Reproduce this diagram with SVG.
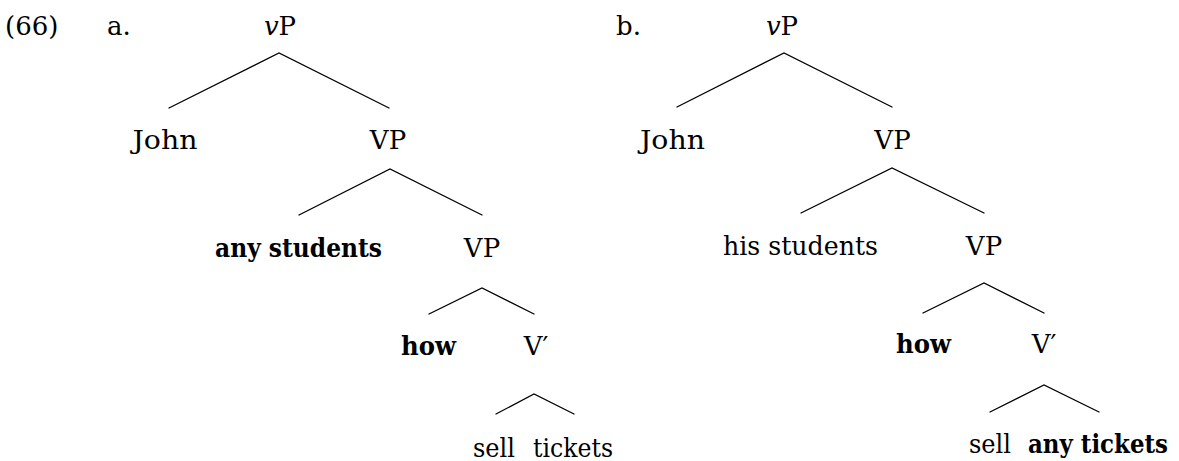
<svg xmlns="http://www.w3.org/2000/svg" width="1179" height="461" viewBox="0 0 1179 461">
  <style>
    .t { font-family: "DejaVu Serif", "Liberation Serif", serif; font-size: 26px; fill: #000; }
    .c { text-anchor: middle; }
    .e { text-anchor: end; }
    .b { font-weight: bold; }
    .i { font-style: italic; }
    .edge { stroke: #000; stroke-width: 1.3; fill: none; stroke-linecap: round; }
  </style>
  <rect width="1179" height="461" fill="#fff"/>

  <!-- example number and sub-labels -->
  <g id="labels">
    <text class="t" x="5" y="35">(66)</text>
    <text class="t" x="107" y="35">a.</text>
    <text class="t" x="616" y="35">b.</text>
  </g>

  <!-- tree a nodes -->
  <g id="a-vP"><text class="t c" x="280" y="35"><tspan class="i">v</tspan>P</text></g>
  <g id="a-John"><text class="t c" x="165" y="149" textLength="65" lengthAdjust="spacingAndGlyphs">John</text></g>
  <g id="a-VP1"><text class="t c" x="388" y="149">VP</text></g>
  <g id="a-any-students"><text class="t c b" x="298.5" y="257" textLength="167" lengthAdjust="spacingAndGlyphs">any students</text></g>
  <g id="a-VP2"><text class="t c" x="482" y="257">VP</text></g>
  <g id="a-how"><text class="t c b" x="428.5" y="355" textLength="55" lengthAdjust="spacingAndGlyphs">how</text></g>
  <g id="a-Vbar"><text class="t c" x="536" y="355">V′</text></g>
  <g id="a-sell"><text class="t c" x="494" y="457" textLength="42" lengthAdjust="spacingAndGlyphs">sell</text></g>
  <g id="a-tickets"><text class="t c" x="573" y="457" textLength="80" lengthAdjust="spacingAndGlyphs">tickets</text></g>

  <!-- tree b nodes -->
  <g id="b-vP"><text class="t c" x="782" y="35"><tspan class="i">v</tspan>P</text></g>
  <g id="b-John"><text class="t c" x="672.5" y="149" textLength="65" lengthAdjust="spacingAndGlyphs">John</text></g>
  <g id="b-VP1"><text class="t c" x="892.5" y="149">VP</text></g>
  <g id="b-his-students"><text class="t c" x="800.5" y="255" textLength="155" lengthAdjust="spacingAndGlyphs">his students</text></g>
  <g id="b-VP2"><text class="t c" x="984" y="255">VP</text></g>
  <g id="b-how"><text class="t c b" x="923.5" y="353" textLength="55" lengthAdjust="spacingAndGlyphs">how</text></g>
  <g id="b-Vbar"><text class="t c" x="1044" y="353">V′</text></g>
  <g id="b-sell"><text class="t c" x="990" y="453" textLength="42" lengthAdjust="spacingAndGlyphs">sell</text></g>
  <g id="b-any-tickets"><text class="t e b" x="1168" y="453" textLength="140" lengthAdjust="spacingAndGlyphs">any tickets</text></g>

  <!-- branches -->
  <g id="edges">
    <!-- tree a -->
    <path class="edge" d="M169,108 L279,53 L389,108"/>
    <path class="edge" d="M299,215 L390,169 L482,215"/>
    <path class="edge" d="M429,314 L482,288 L534,314"/>
    <path class="edge" d="M496,414 L534,394 L574,414"/>
    <!-- tree b -->
    <path class="edge" d="M677,107 L784,53 L892,107"/>
    <path class="edge" d="M801,213 L892,168 L984,213"/>
    <path class="edge" d="M923,313 L984,283 L1044,313"/>
    <path class="edge" d="M990,412 L1044,385 L1099,412"/>
  </g>
</svg>
